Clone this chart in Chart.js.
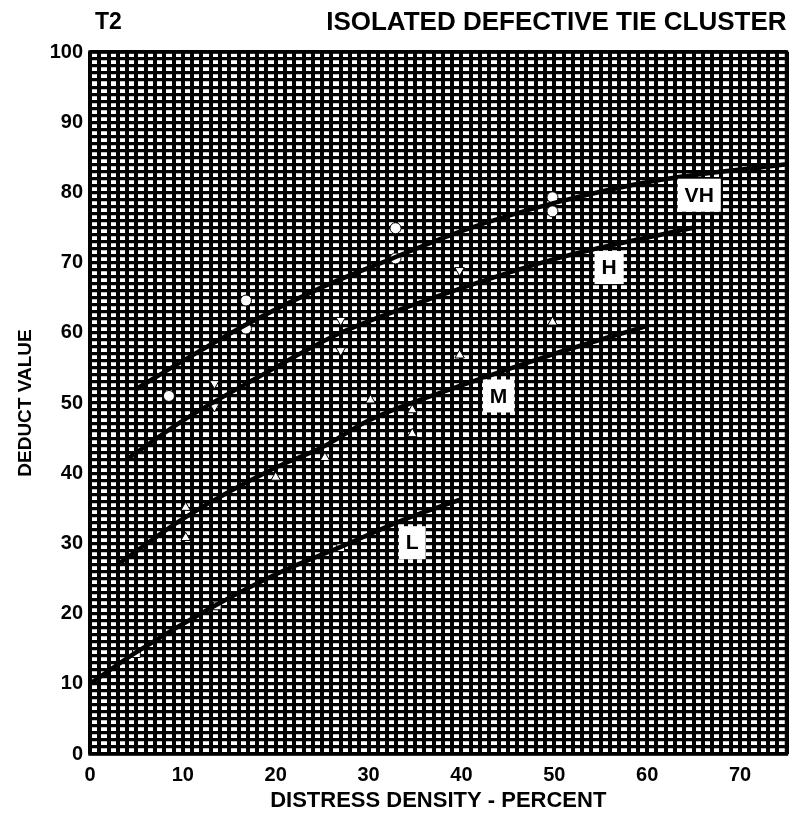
<!DOCTYPE html>
<html>
<head>
<meta charset="utf-8">
<script src="https://cdn.jsdelivr.net/npm/chart.js@4/dist/chart.umd.min.js"></script>
<style>
  html, body { margin: 0; padding: 0; background: #fff; }
  #wrap { width: 793px; height: 822px; }
</style>
</head>
<body>
<div id="wrap"><canvas id="deductChart" width="793" height="822"></canvas></div>
<script>
// deduct curves, one per severity level
const vhX = [5, 10, 17, 25, 32, 40, 50, 61, 75]
const vhY = [52, 56, 61.3, 66.5, 70.3, 74.5, 78.5, 81.7, 84]
const hX = [4, 10, 18, 27, 37, 50, 65]
const hY = [42, 47.5, 53.6, 60, 65, 70.5, 75]
const mX = [3, 10, 20, 25, 30, 40, 50, 60]
const mY = [27, 33.5, 40.8, 43.7, 47.5, 52.5, 57, 61]
const lX = [0, 5, 13, 21, 27, 34, 40]
const lY = [10, 14.5, 20.8, 26.2, 29.5, 33.5, 36.3]

// observed points
const vhObsX = [8.5, 16.8, 16.8, 32.9, 32.9, 49.8, 49.8]
const vhObsY = [51, 64.6, 60.6, 74.9, 70.6, 79.3, 77.3]
const hObsX = [13.4, 13.4, 27, 27, 39.8]
const hObsY = [52.8, 49.5, 61.8, 57.5, 68.9]
const mObsX = [10.3, 10.3, 20, 25.3, 30.2, 34.7, 34.7, 39.8, 49.8]
const mObsY = [35.1, 30.8, 39.4, 42.2, 50.4, 49, 45.6, 56.8, 61.5]
const lObsX = [5, 13.7, 27]
const lObsY = [14.3, 21.1, 29.4]

// curve names and where they sit (x, y in data units)
const curveNames = ['VH', 'H', 'M', 'L']
const nameX = [65.6, 55.9, 44, 34.7]
const nameY = [79.6, 69.3, 51, 30.1]

const xTicks = [0, 10, 20, 30, 40, 50, 60, 70]
const yTicks = [0, 10, 20, 30, 40, 50, 60, 70, 80, 90, 100]

const FONT = '"Liberation Sans", Arial, sans-serif'

function pts(xs, ys) {
    return xs.map((x, i) => ({ x: x, y: ys[i] }))
}

function curve(xs, ys) {
    return {
        type: 'line',
        data: pts(xs, ys),
        borderColor: '#000',
        borderWidth: 4.5,
        pointRadius: 0,
        fill: false,
        tension: 0.4,
        cubicInterpolationMode: 'monotone'
    }
}

function obs(xs, ys, style, rotation) {
    return {
        type: 'scatter',
        data: pts(xs, ys),
        pointStyle: style,
        rotation: rotation || 0,
        pointRadius: 5.5,
        backgroundColor: '#fff',
        borderColor: '#000',
        borderWidth: 1
    }
}

// titles, plot frame and curve name boxes
const decorations = {
    id: 'decorations',
    afterDatasetsDraw(chart) {
        const ctx = chart.ctx
        const xs = chart.scales.x
        const ys = chart.scales.y
        ctx.save()
        ctx.font = 'bold 21px ' + FONT
        ctx.textBaseline = 'middle'
        ctx.textAlign = 'center'
        curveNames.forEach((name, i) => {
            const px = xs.getPixelForValue(nameX[i])
            const py = ys.getPixelForValue(nameY[i])
            const w = ctx.measureText(name).width + 14
            const h = 33
            ctx.fillStyle = '#fff'
            ctx.fillRect(px - w / 2, py - h / 2, w, h)
            ctx.fillStyle = '#000'
            ctx.fillText(name, px, py + 1)
        })
        const a = chart.chartArea
        ctx.strokeStyle = '#000'
        ctx.lineWidth = 3.5
        ctx.strokeRect(a.left, a.top, a.right - a.left, a.bottom - a.top)
        ctx.restore()
    },
    afterDraw(chart) {
        const ctx = chart.ctx
        const a = chart.chartArea
        ctx.save()
        ctx.fillStyle = '#000'
        ctx.textBaseline = 'middle'
        ctx.textAlign = 'left'
        ctx.font = 'bold 23px ' + FONT
        ctx.fillText('T2', a.left + 5, 23)
        ctx.textAlign = 'right'
        ctx.font = 'bold 26px ' + FONT
        ctx.fillText('ISOLATED DEFECTIVE TIE CLUSTER', a.right, 23)
        ctx.restore()
    }
}

const ctx = document.getElementById('deductChart').getContext('2d')
const deductChart = new Chart(ctx, {
    data: {
        datasets: [
            curve(vhX, vhY), curve(hX, hY), curve(mX, mY), curve(lX, lY),
            obs(vhObsX, vhObsY, 'circle'),
            obs(hObsX, hObsY, 'triangle', 180),
            obs(mObsX, mObsY, 'triangle'),
            obs(lObsX, lObsY, 'rect')
        ]
    },
    options: {
        responsive: false,
        animation: false,
        layout: { padding: { top: 52, left: 10, right: 1, bottom: 8 } },
        plugins: { legend: { display: false }, tooltip: { enabled: false } },
        scales: {
            x: {
                type: 'linear',
                min: 0,
                max: 75,
                afterBuildTicks(scale) {
                    scale.ticks = []
                    for (let v = 0; v <= 75; v++) scale.ticks.push({ value: v })
                },
                afterFit(scale) {
                    scale.height = 822 - 754 - 8
                    scale.paddingLeft = 0
                    scale.paddingRight = 0
                },
                grid: { color: '#000', lineWidth: 4, drawTicks: false },
                border: { display: false },
                ticks: {
                    autoSkip: false,
                    maxRotation: 0,
                    padding: 9,
                    color: '#000',
                    font: { family: FONT, size: 20, weight: 'bold' },
                    callback: (v) => xTicks.includes(v) ? String(v) : ''
                },
                title: {
                    display: true,
                    text: 'DISTRESS DENSITY - PERCENT',
                    color: '#000',
                    font: { family: FONT, size: 22, weight: 'bold' },
                    padding: { top: 4, bottom: 0 }
                }
            },
            y: {
                type: 'linear',
                min: 0,
                max: 100,
                afterBuildTicks(scale) {
                    scale.ticks = []
                    for (let v = 0; v <= 100; v++) scale.ticks.push({ value: v })
                },
                afterFit(scale) { scale.width = 80 },
                grid: { color: '#000', lineWidth: 3.2, drawTicks: false },
                border: { display: false },
                ticks: {
                    autoSkip: false,
                    padding: 7,
                    color: '#000',
                    font: { family: FONT, size: 20, weight: 'bold' },
                    callback: (v) => yTicks.includes(v) ? String(v) : ''
                },
                title: {
                    display: true,
                    text: 'DEDUCT VALUE',
                    color: '#000',
                    font: { family: FONT, size: 19, weight: 'bold' },
                    padding: { top: 4, bottom: 4 }
                }
            }
        }
    },
    plugins: [decorations]
})
</script>
</body>
</html>
